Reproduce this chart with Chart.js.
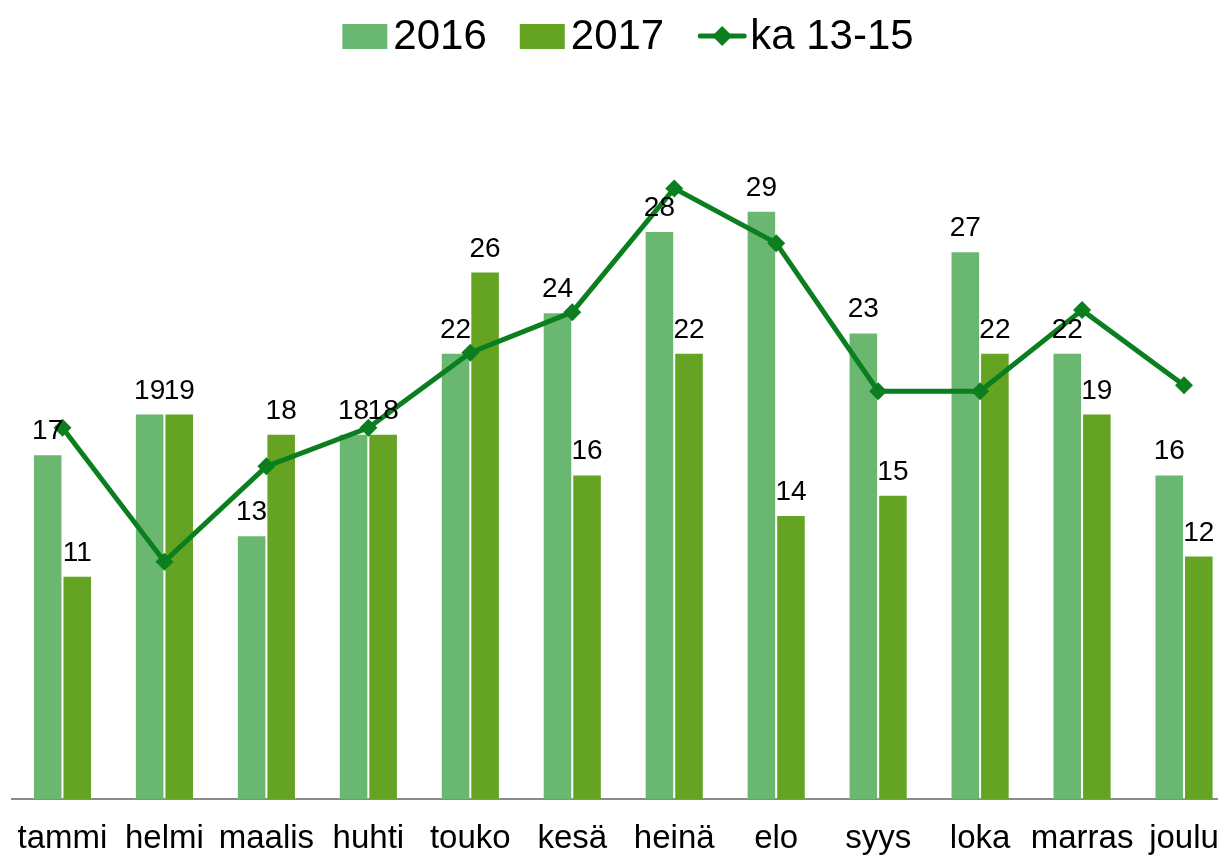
<!DOCTYPE html>
<html>
<head>
<meta charset="utf-8">
<script src="https://cdn.jsdelivr.net/npm/chart.js@4/dist/chart.umd.min.js"></script>
<style>
    html, body { margin: 0; padding: 0; background: #fff; overflow: hidden; }
    #wrap { width: 1218px; height: 855px; overflow: hidden; }
</style>
</head>
<body>
<div id="wrap"><canvas id="chart" width="1244" height="855"></canvas></div>
<script>
const months = ['tammi', 'helmi', 'maalis', 'huhti', 'touko', 'kesä', 'heinä', 'elo', 'syys', 'loka', 'marras', 'joulu'];
const values2016 = [17, 19, 13, 18, 22, 24, 28, 29, 23, 27, 22, 16];
const values2017 = [11, 19, 18, 18, 26, 16, 22, 14, 15, 22, 19, 12];
const avg1315 = [18.3, 11.7, 16.4, 18.3, 22.0, 24.0, 30.1, 27.4, 20.1, 20.1, 24.1, 20.4];

const COLOR_2016 = '#6ab771';
const COLOR_2017 = '#64a422';
const COLOR_LINE = '#0b7f1f';
const FONT = 'Liberation Sans, Arial, sans-serif';

// numbers above the bars
const barLabels = {
    id: 'barLabels',
    afterDatasetsDraw(chart) {
        const ctx = chart.ctx;
        ctx.save();
        ctx.font = '28px ' + FONT;
        ctx.fillStyle = '#000';
        ctx.textAlign = 'center';
        ctx.textBaseline = 'alphabetic';
        chart.data.datasets.forEach((ds, i) => {
            if (ds.type === 'line') return;
            chart.getDatasetMeta(i).data.forEach((bar, j) => {
                ctx.fillText(String(ds.data[j]), bar.x, bar.y - 15);
            });
        });
        ctx.restore();
    }
};

// legend drawn by hand so the line entry gets its diamond
const topLegend = {
    id: 'topLegend',
    afterDraw(chart) {
        const ctx = chart.ctx;
        const y = 36;
        ctx.save();
        ctx.font = '42px ' + FONT;
        ctx.textBaseline = 'middle';
        ctx.fillStyle = '#000';
        const items = chart.data.datasets.map(ds => ({ label: ds.label, type: ds.type || 'bar', color: ds.backgroundColor }));
        const iconW = items.map(it => it.type === 'line' ? 50 : 45);
        const gaps = items.map(it => it.type === 'line' ? 3 : 6);
        const spacing = 33;
        let total = 0;
        items.forEach((it, i) => { total += iconW[i] + gaps[i] + ctx.measureText(it.label).width; });
        total += spacing * (items.length - 1);
        let x = 628 - total / 2;
        items.forEach((it, i) => {
            if (it.type === 'line') {
                ctx.strokeStyle = COLOR_LINE;
                ctx.lineWidth = 5;
                ctx.lineCap = 'round';
                ctx.beginPath();
                ctx.moveTo(x + 3, y);
                ctx.lineTo(x + iconW[i] - 3, y);
                ctx.stroke();
                const cx = x + iconW[i] / 2;
                ctx.fillStyle = COLOR_LINE;
                ctx.beginPath();
                ctx.moveTo(cx, y - 10);
                ctx.lineTo(cx + 10, y);
                ctx.lineTo(cx, y + 10);
                ctx.lineTo(cx - 10, y);
                ctx.closePath();
                ctx.fill();
            } else {
                ctx.fillStyle = it.color;
                ctx.fillRect(x, y - 12, iconW[i], 25);
            }
            x += iconW[i] + gaps[i];
            ctx.fillStyle = '#000';
            ctx.fillText(it.label, x, y + 1);
            x += ctx.measureText(it.label).width + spacing;
        });
        ctx.restore();
    }
};

new Chart(document.getElementById('chart').getContext('2d'), {
    type: 'bar',
    data: {
        labels: months,
        datasets: [
            {
                label: '2016',
                data: values2016,
                backgroundColor: COLOR_2016,
                borderColor: 'rgba(255,255,255,0.2)',
                borderWidth: 1,
                order: 1,
                categoryPercentage: 0.58,
                barPercentage: 1.0
            },
            {
                label: '2017',
                data: values2017,
                backgroundColor: COLOR_2017,
                borderColor: 'rgba(255,255,255,0.2)',
                borderWidth: 1,
                order: 1,
                categoryPercentage: 0.58,
                barPercentage: 1.0
            },
            {
                type: 'line',
                label: 'ka 13-15',
                data: avg1315,
                borderColor: COLOR_LINE,
                backgroundColor: COLOR_LINE,
                borderWidth: 5,
                pointStyle: 'rectRot',
                pointRadius: 9,
                pointBorderWidth: 0,
                tension: 0,
                order: 0
            }
        ]
    },
    options: {
        responsive: false,
        animation: false,
        devicePixelRatio: 1,
        layout: { padding: { top: 89, left: 11.5, right: 4, bottom: 0 } },
        plugins: {
            legend: { display: false },
            tooltip: { enabled: false }
        },
        scales: {
            x: {
                offset: true,
                grid: { display: false },
                border: { display: true, color: '#8a8a8a', width: 2 },
                ticks: {
                    color: '#000',
                    font: { family: FONT, size: 33 },
                    padding: 12,
                    maxRotation: 0,
                    autoSkip: false
                },
                afterFit(scale) { scale.height = 56; }
            },
            y: {
                display: false,
                min: 0,
                max: 35
            }
        }
    },
    plugins: [barLabels, topLegend]
});
</script>
</body>
</html>
